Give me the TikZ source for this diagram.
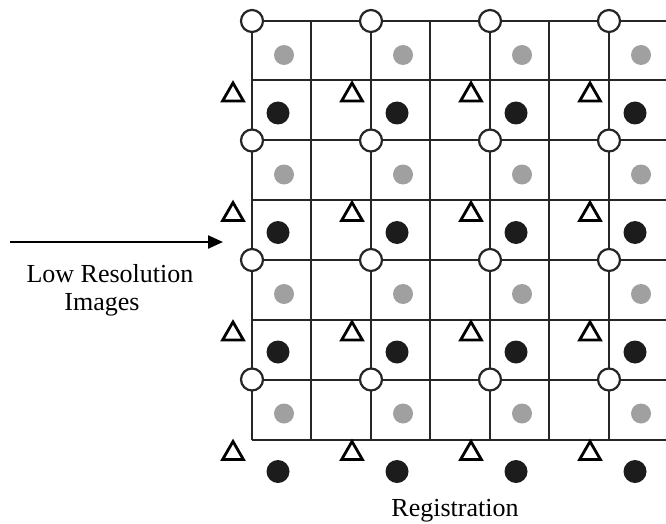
\documentclass[tikz,border=0pt]{standalone}
\usepackage{fontspec}
\setmainfont{Liberation Serif}
\usetikzlibrary{arrows.meta,shapes.geometric}
\definecolor{gridink}{HTML}{262626}
\definecolor{lightdot}{HTML}{A0A0A0}
\definecolor{darkdot}{HTML}{1C1C1C}
\tikzset{
  gridline/.style={draw=gridink, line width=2.2pt},
  hrpoint/.style={circle, draw=gridink, line width=2.2pt, fill=white, minimum size=22pt, inner sep=0pt},
  greypoint/.style={circle, fill=lightdot, minimum size=20pt, inner sep=0pt},
  blackpoint/.style={circle, fill=darkdot, minimum size=23pt, inner sep=0pt},
  tripoint/.style={regular polygon, regular polygon sides=3, draw=black, line width=2.8pt, fill=white, minimum size=24pt, inner sep=0pt},
  label/.style={font=\fontsize{26pt}{28pt}\selectfont, inner sep=0pt, anchor=base},
  flow/.style={-{Triangle[length=15pt,width=13pt]}, line width=2.3pt, draw=black}
}
\begin{document}
\begin{tikzpicture}[x=1pt, y=-1pt]
  \useasboundingbox (0,0) rectangle (666,524);

  % grid: horizontal lines every 60px, vertical lines every ~59.5px
  \foreach \r [count=\i] in {21,80,140,200,260,320,380,440}
    \draw[gridline] (252,\r) -- (666,\r);
  \foreach \c in {252,311,371,430,490,549,609}
    \draw[gridline] (\c,21) -- (\c,440);

  % sample points per lattice cell
  \foreach \cx [count=\i] in {252,371,490,609} {
    \foreach \cy [count=\j] in {21,140.5,260,379.5} {
      \node[greypoint]  (g-\i-\j) at (\cx+32,\cy+34) {};
      \node[tripoint]   (t-\i-\j) at (\cx-19,\cy+74) {};
      \node[blackpoint] (b-\i-\j) at (\cx+26,\cy+92) {};
      \node[hrpoint]    (o-\i-\j) at (\cx,\cy) {};
    }
  }

  % input arrow and labels
  \coordinate (arrowstart) at (10,242);
  \coordinate (arrowend) at (223,242);
  \draw[flow] (arrowstart) -- (arrowend);
  \node[label] (lowres) at (110,282) {Low Resolution};
  \node[label] (images) at (102,310) {Images};
  \node[label] (registration) at (455,516) {Registration};
\end{tikzpicture}
\end{document}
